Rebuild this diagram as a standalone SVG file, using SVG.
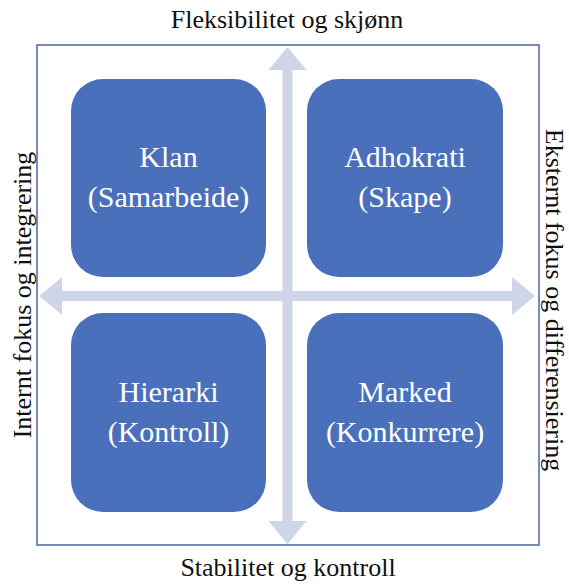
<svg xmlns="http://www.w3.org/2000/svg" width="569" height="584" viewBox="0 0 569 584">
<style>
.box{fill:#4a70bb;}
.bt{font-family:"Liberation Serif","Times New Roman",serif;font-size:30px;fill:#ffffff;text-anchor:middle;}
.ax{font-family:"Liberation Serif","Times New Roman",serif;font-size:26px;fill:#111111;text-anchor:middle;}
.arr{fill:#cfd5e8;}
</style>
<rect x="0" y="0" width="569" height="584" fill="#ffffff"/>
<rect id="frame" x="37" y="45" width="502" height="500" fill="none" stroke="#5a6ea6" stroke-width="1.6"/>
<g id="connectors">
  <polygon class="arr" points="287.5,47 306.5,70 292.5,70 292.5,521 306.5,521 287.5,544 268.5,521 282.5,521 282.5,70 268.5,70"/>
  <polygon class="arr" points="39,296 62,277 62,291 512,291 512,277 535,296 512,315 512,301 62,301 62,315"/>
</g>
<g id="klan">
  <rect class="box" x="71" y="79" width="195" height="198" rx="32"/>
  <text class="bt" x="168.5" y="167">Klan</text>
  <text class="bt" x="168.5" y="207">(Samarbeide)</text>
</g>
<g id="adhokrati">
  <rect class="box" x="307" y="79" width="196" height="198" rx="32"/>
  <text class="bt" x="405" y="167">Adhokrati</text>
  <text class="bt" x="405" y="207">(Skape)</text>
</g>
<g id="hierarki">
  <rect class="box" x="71" y="313" width="195" height="199" rx="32"/>
  <text class="bt" x="168.5" y="402">Hierarki</text>
  <text class="bt" x="168.5" y="442">(Kontroll)</text>
</g>
<g id="marked">
  <rect class="box" x="307" y="313" width="196" height="199" rx="32"/>
  <text class="bt" x="405" y="402">Marked</text>
  <text class="bt" x="405" y="442">(Konkurrere)</text>
</g>
<g id="labels">
  <text class="ax" x="287" y="28">Fleksibilitet og skjønn</text>
  <text class="ax" x="288" y="576">Stabilitet og kontroll</text>
  <text class="ax" transform="translate(31,295) rotate(-90)">Internt fokus og integrering</text>
  <text class="ax" transform="translate(546,300) rotate(90)">Eksternt fokus og differensiering</text>
</g>
</svg>
